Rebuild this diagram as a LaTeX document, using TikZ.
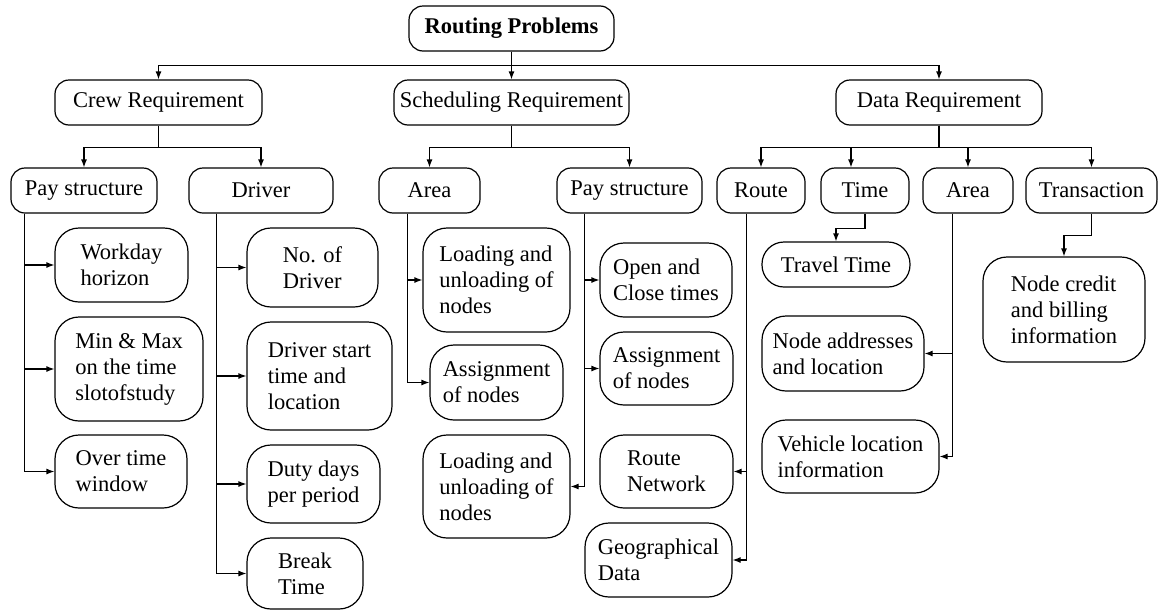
\documentclass[tikz,border=0pt]{standalone}
\usepackage{fontspec}
\setmainfont{Liberation Serif}
\usetikzlibrary{arrows.meta}
\begin{document}
\begin{tikzpicture}
			[x=0.5pt, y=-0.5pt, font=\fontsize{11.25}{13}\selectfont,
			box/.style={draw, line width=0.6pt, rounded corners=7pt, minimum height=22.5pt, inner sep=0pt},
			tall/.style 2 args={draw, line width=0.6pt, rounded corners=12pt, align=left, inner sep=0pt, minimum width=#1, minimum height=#2},
			arr/.style={-{Latex[length=4pt,width=3pt]}, line width=0.6pt}]
			\useasboundingbox (0,0) rectangle (1162,611);
			\node[box, minimum width=102.5pt] (rp) at (511.5,28.5) {\textbf{Routing Problems}};
			\node[box, minimum width=103.5pt] (cr) at (158.5,102.5) {Crew Requirement};
			\node[box, minimum width=117.5pt] (sr) at (511.5,102.5) {Scheduling Requirement};
			\node[box, minimum width=103pt] (dr) at (939,102.5) {Data Requirement};
			\node[box, minimum width=73pt] (pay1) at (84,190.5) {Pay structure};
			\node[box, minimum width=72pt] (dv) at (261,190.5) {Driver};
			\node[box, minimum width=50.5pt] (ar1) at (429.5,190.5) {Area};
			\node[box, minimum width=72.5pt] (pay2) at (629.5,190.5) {Pay structure};
			\node[box, minimum width=44pt] (rt) at (761,190.5) {Route};
			\node[box, minimum width=44pt] (tm) at (865,190.5) {Time};
			\node[box, minimum width=45pt] (ar2) at (968,190.5) {Area};
			\node[box, minimum width=65.5pt] (tr) at (1091.5,190.5) {Transaction};
			\node[tall={66.5pt}{37pt}] (wd) at (121.5,265) {Workday\\horizon};
			\node[tall={74pt}{52pt}] (mm) at (129,369) {Min \& Max\\on the time\\slotofstudy};
			\node[tall={66pt}{36.5pt}] (ot) at (121,471.5) {Over time\\window};
			\node[tall={65.5pt}{39.5pt}] (nd) at (312.5,267.5) {No. of\\Driver};
			\node[tall={72.5pt}{54pt}] (ds) at (319.5,376) {Driver start\\time and\\location};
			\node[tall={66.5pt}{39pt}] (dd) at (313.5,484) {Duty days\\per period};
			\node[tall={58pt}{35.5pt}] (bt) at (305,573.5) {Break\\Time};
			\node[tall={73.5pt}{52pt}] (ld1) at (496.5,280) {Loading and\\unloading of\\nodes};
			\node[tall={66.5pt}{37.5pt}] (as1) at (496.5,382.5) {Assignment\\of nodes};
			\node[tall={73.5pt}{51.5pt}] (ld2) at (496.5,486.5) {Loading and\\unloading of\\nodes};
			\node[tall={66pt}{37pt}] (oc) at (666,280) {Open and\\Close times};
			\node[tall={66.5pt}{36.5pt}] (as2) at (666.5,368.5) {Assignment\\of nodes};
			\node[tall={66.5pt}{36.5pt}] (rn) at (666.5,471.5) {Route\\Network};
			\node[tall={73.5pt}{37pt}] (gd) at (658.5,560) {Geographical\\Data};
			\node[box, rounded corners=11pt, minimum width=74pt] (tt) at (836,264.5) {Travel Time};
			\node[tall={81pt}{37.5pt}] (na) at (843,353.5) {Node addresses\\and location};
			\node[tall={88.5pt}{36.5pt}] (vl) at (850.5,456.5) {Vehicle location\\information};
			\node[tall={81pt}{52.5pt}] (nc) at (1064,309.5) {Node credit\\and billing\\information};
			\draw[arr] (rp.south) -- ++(0,14) -| (cr.north);
			\draw[arr] (rp.south) -- (sr.north);
			\draw[arr] (rp.south) -- ++(0,14) -| (dr.north);
			\draw[arr] (cr.south) -- ++(0,22) -| (pay1.north);
			\draw[arr] (cr.south) -- ++(0,22) -| (dv.north);
			\draw[arr] (sr.south) -- ++(0,22) -| (ar1.north);
			\draw[arr] (sr.south) -- ++(0,22) -| (pay2.north);
			\draw[arr] (dr.south) -- ++(0,22) -| (rt.north);
			\draw[arr] (dr.south) -- ++(0,22) -| ([xshift=-7pt]tm.north);
			\draw[arr] (dr.south) -- ++(0,22) -| (ar2.north);
			\draw[arr] (dr.south) -- ++(0,22) -| (tr.north);
			\draw[arr] ([xshift=7pt]pay1.south west) |- (wd.west);
			\draw[arr] ([xshift=7pt]pay1.south west) |- (mm.west);
			\draw[arr] ([xshift=7pt]pay1.south west) |- (ot.west);
			\draw[arr] ([xshift=14pt]dv.south west) |- (nd.west);
			\draw[arr] ([xshift=14pt]dv.south west) |- (ds.west);
			\draw[arr] ([xshift=14pt]dv.south west) |- (dd.west);
			\draw[arr] ([xshift=14pt]dv.south west) |- (bt.west);
			\draw[arr] ([xshift=14.5pt]ar1.south west) |- (ld1.west);
			\draw[arr] ([xshift=14.5pt]ar1.south west) |- (as1.west);
			\draw[arr] ([xshift=14pt]pay2.south west) |- (oc.west);
			\draw[arr] ([xshift=14pt]pay2.south west) |- (as2.west);
			\draw[arr] ([xshift=14pt]pay2.south west) |- (ld2.east);
			\draw[arr] ([xshift=15pt]rt.south west) |- (rn.east);
			\draw[arr] ([xshift=15pt]rt.south west) |- (gd.east);
			\draw[arr] (tm.south) -- ++(0,15) -| (tt.north);
			\draw[arr] ([xshift=15pt]ar2.south west) |- (na.east);
			\draw[arr] ([xshift=15pt]ar2.south west) |- (vl.east);
			\draw[arr] (tr.south) -- ++(0,22) -| (nc.north);
\end{tikzpicture}
\end{document}
